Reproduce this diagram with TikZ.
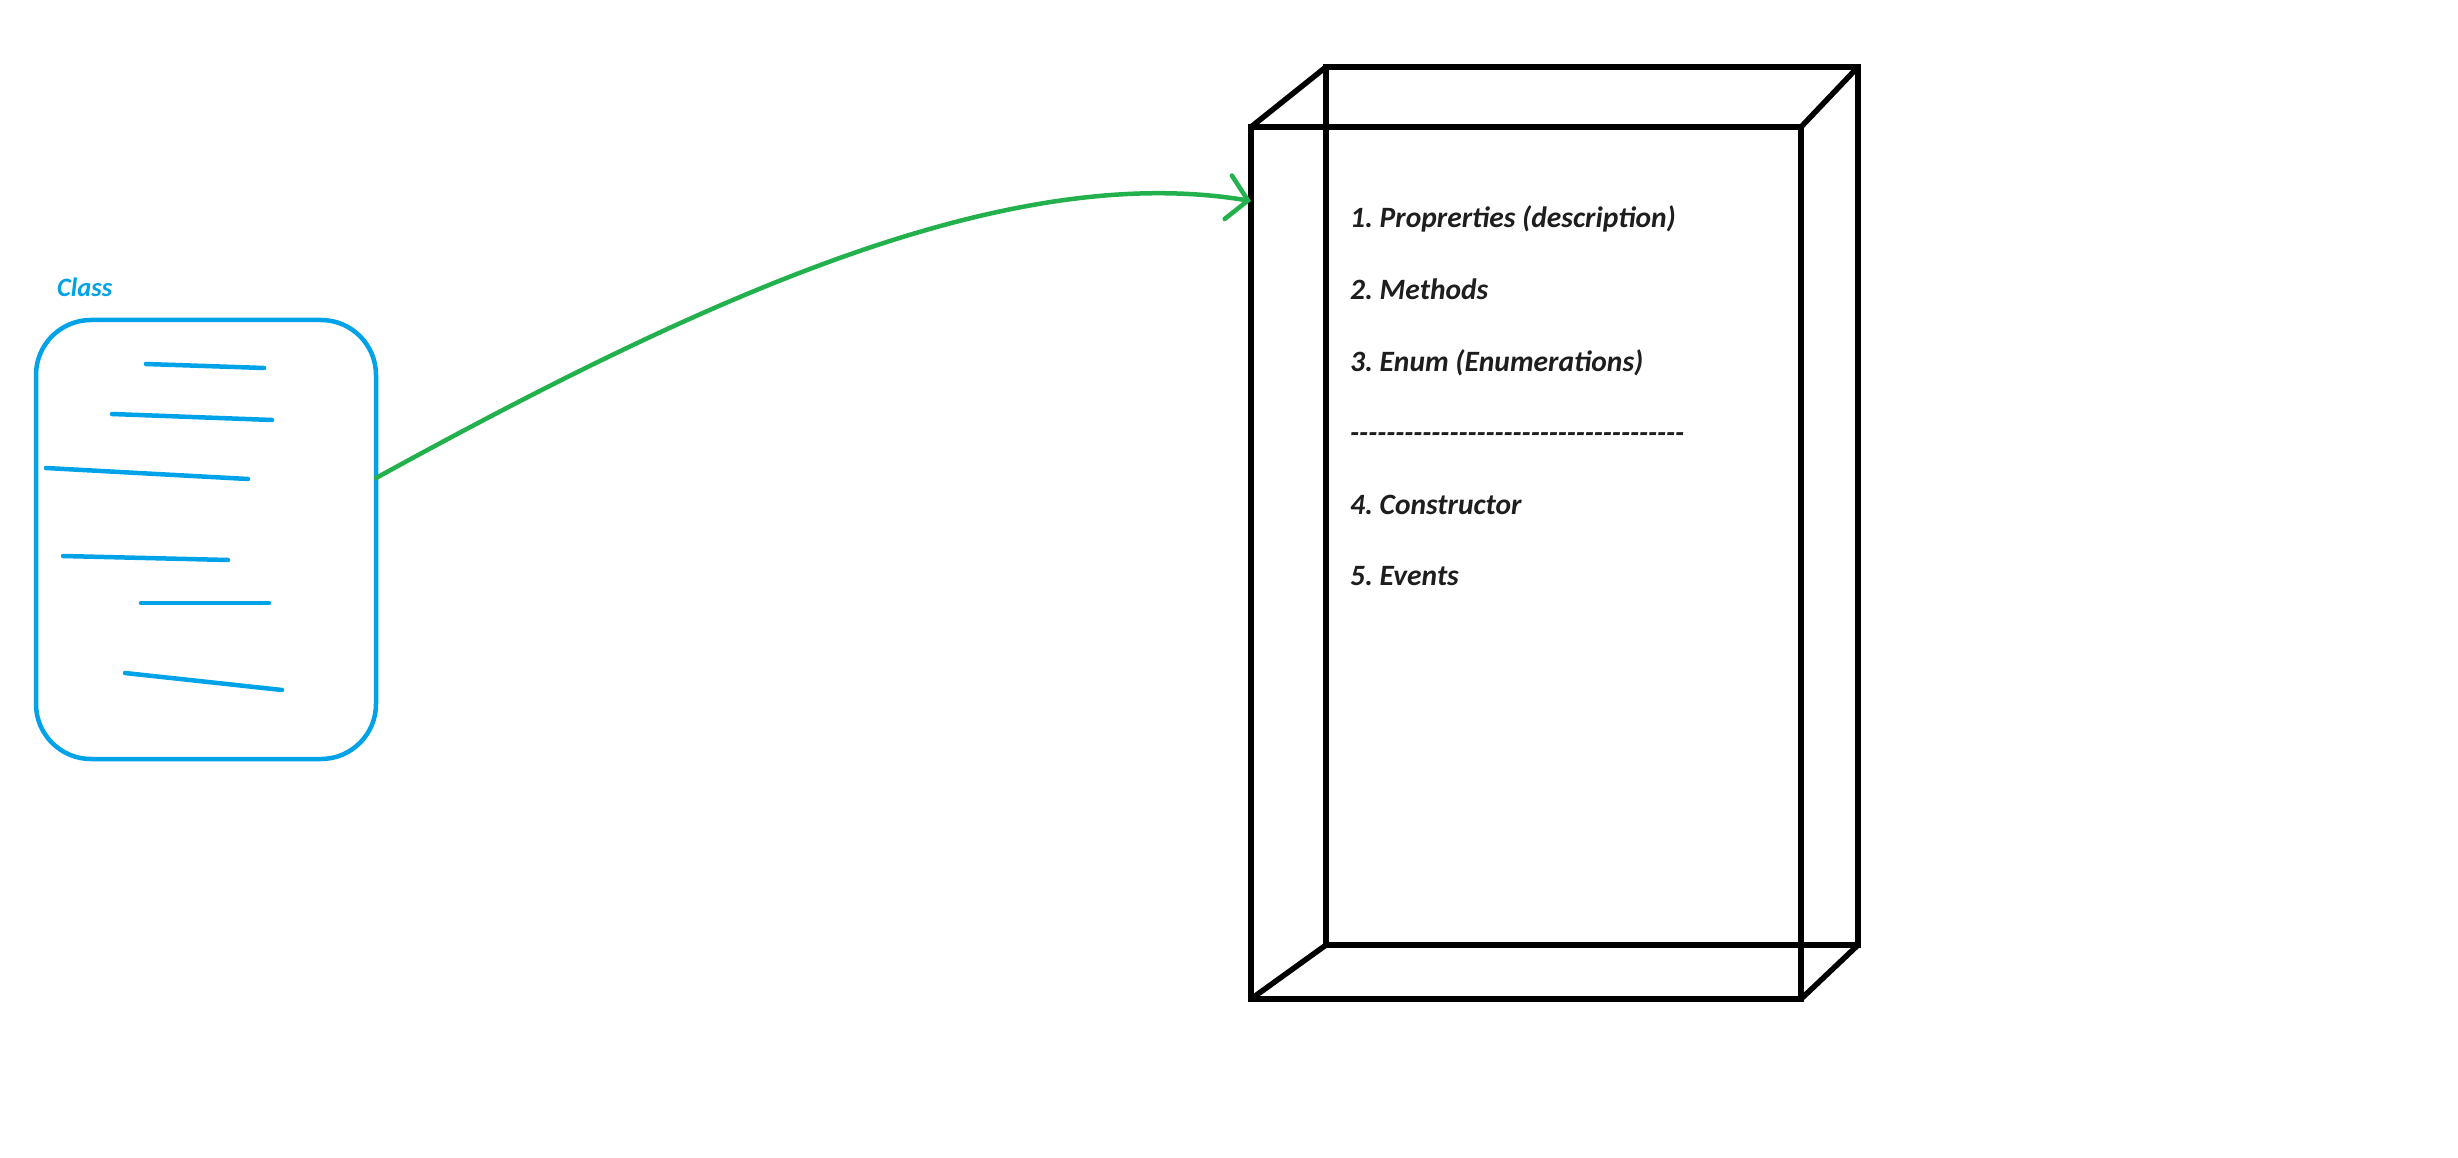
\documentclass[tikz,border=0pt]{standalone}
\usepackage{fontspec}
\setmainfont{Carlito}
\usetikzlibrary{arrows.meta,calc}
\definecolor{pblue}{RGB}{0,162,232}
\definecolor{pgreen}{RGB}{34,177,76}
\definecolor{txt}{RGB}{30,30,30}
\newcommand\hyrow{\foreach \i in {1,...,37}{-\kern0pt}}
\frenchspacing
\begin{document}
\begin{tikzpicture}[x=1pt,y=-1pt,
  wire/.style={draw=black,line width=5.5pt,outer sep=0pt,inner sep=0pt},
  wireline/.style={draw=black,line width=5.5pt,line cap=round},
  scrib/.style={draw=pblue,line width=4.5pt,line cap=round},
  item/.style={anchor=base west,inner sep=0pt,text=txt,font=\fontsize{29.5}{33}\selectfont\bfseries\itshape}]
\useasboundingbox[fill=white] (0,0) rectangle (2458,1158);
% class box
\node[draw=pblue,line width=4.5pt,rounded corners=55pt,minimum width=340pt,minimum height=439pt,outer sep=0pt,inner sep=0pt] (cls) at (206,539.5) {};
\node[anchor=base west,text=pblue,inner sep=0pt,font=\fontsize{26.5}{30}\selectfont\bfseries\itshape] (clslabel) at (57,297) {Class};
\draw[scrib] (146,364) -- (264,368);
\draw[scrib] (112,414) -- (272,420);
\draw[scrib] (46,468) -- (248,479);
\draw[scrib] (63,556) -- (228,560);
\draw[scrib] (141,603) -- (269,603);
\draw[scrib] (125,673) -- (282,690);
% wireframe box
\node[wire,minimum width=532pt,minimum height=878pt] (back) at (1592,506) {};
\node[wire,minimum width=550pt,minimum height=872pt] (front) at (1526,563) {};
\draw[wireline] (front.north west) -- (back.north west);
\draw[wireline] (front.north east) -- (back.north east);
\draw[wireline] (front.south west) -- (back.south west);
\draw[wireline] (front.south east) -- (back.south east);
% items
\node[item] (i1) at (1350,228) {1. Proprerties (description)};
\node[item] (i2) at (1350,299.5) {2. Methods};
\node[item] (i3) at (1350,371) {3. Enum (Enumerations)};
\node[item] (sep) at (1350,442.5) {\hyrow};
\node[item] (i4) at (1350,514) {4. Constructor};
\node[item] (i5) at (1350,585.5) {5. Events};
% arrow
\draw[pgreen,line width=4.5pt,line cap=round,-{Straight Barb[length=20pt,width=44pt,line cap=round]}]
  ([yshift=61.5pt]cls.east) .. controls (700,300) and (1004,160) .. ([yshift=-74pt]front.north west);
\end{tikzpicture}
\end{document}
